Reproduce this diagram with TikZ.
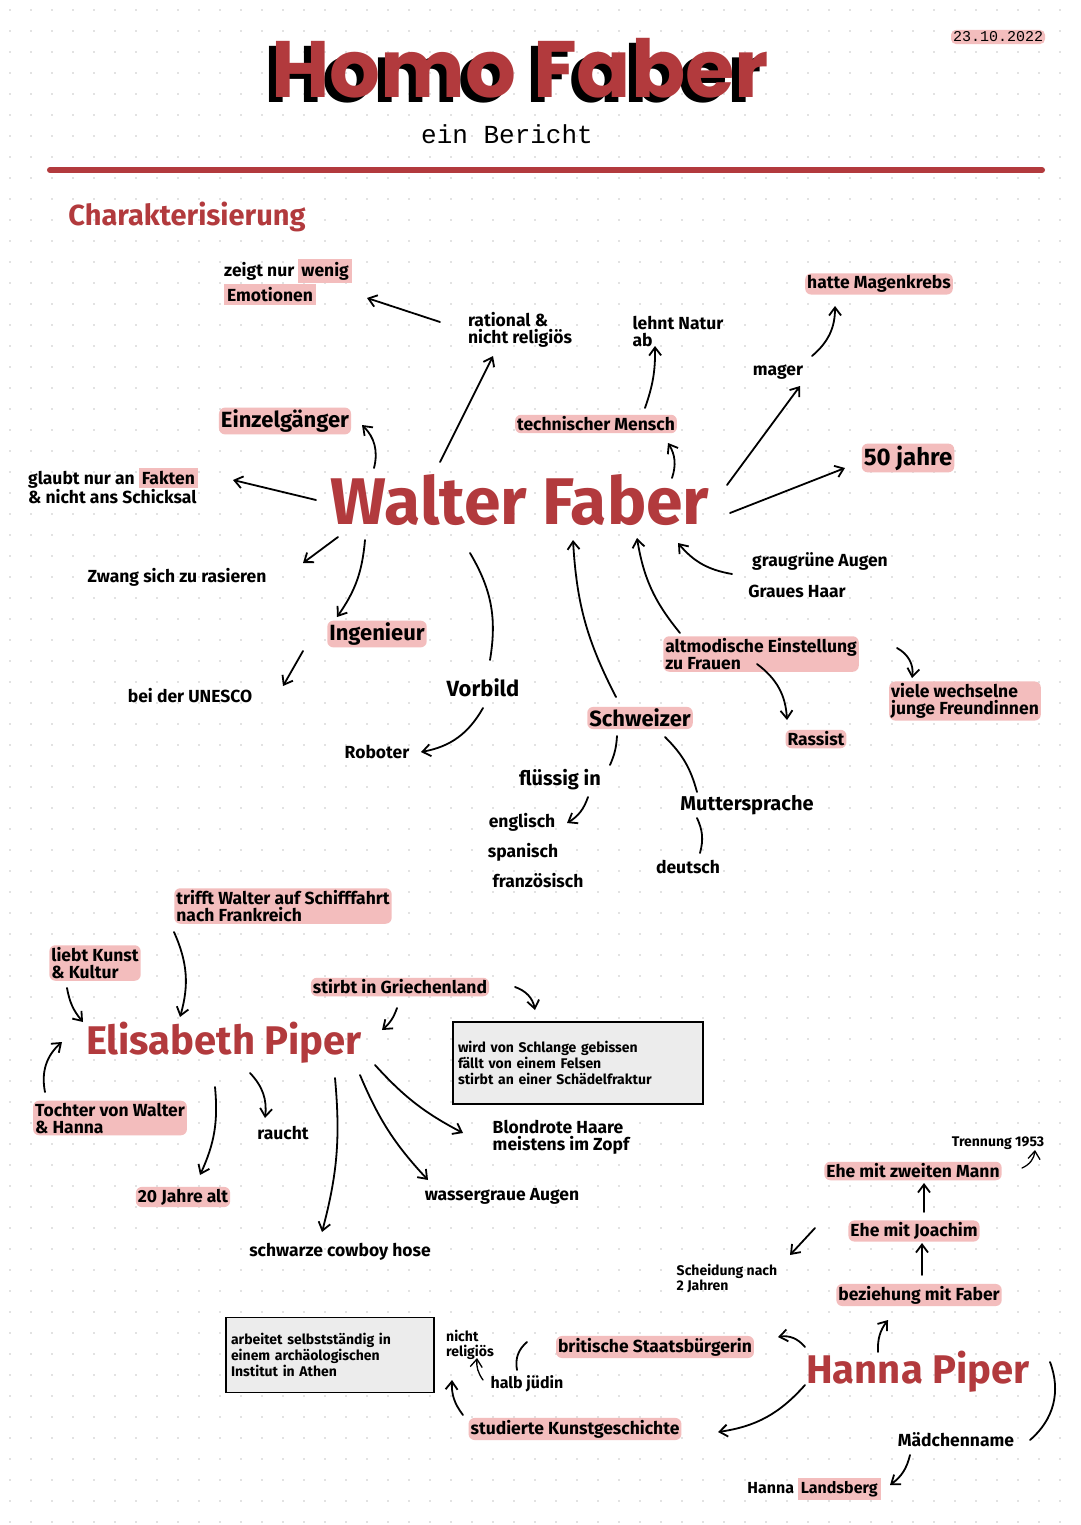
\documentclass[tikz,border=0pt]{standalone}
\usepackage{fontspec}
\setmainfont{Fira Sans}
\newfontfamily\monof{Liberation Mono}
\newfontfamily\titlef{Poppins}
\usetikzlibrary{arrows.meta}
\definecolor{hred}{HTML}{B23A3D}
\definecolor{hpink}{HTML}{F3BDBD}
\tikzset{
 lbl/.style={font=\fontsize{17.5}{17}\selectfont\bfseries, align=left, inner sep=1pt},
 sm/.style={font=\fontsize{14}{15}\selectfont\bfseries, align=left, inner sep=1pt},
 hl/.style={lbl, fill=hpink, rounded corners=6pt, inner sep=2pt},
 arr/.style={-{Straight Barb[length=8pt,width=12pt]}, line width=1.8pt, line cap=round},
 ln/.style={line width=1.8pt, line cap=round},
 big/.style={text=hred, font=\fontsize{66}{66}\selectfont\bfseries},
 mid/.style={text=hred, font=\fontsize{40}{42}\selectfont\bfseries},
 infobox/.style={draw, line width=1.5pt, fill=gray!15, font=\fontsize{14}{16}\selectfont\bfseries, align=left, inner sep=4pt},
 ttl/.style={font=\titlef\fontsize{80}{80}\selectfont\bfseries, inner sep=0pt, text height=58pt, text depth=0pt}
}
\begin{document}
\begin{tikzpicture}[x=1pt,y=-1pt]
\useasboundingbox (0,0) rectangle (1080,1525);
\fill[white] (0,0) rectangle (1080,1525);
\foreach \x in {10,31,...,1080} \foreach \y in {10,31,...,1525} \fill[gray!45] (\x,\y) circle (0.9);
% title
\node[ttl, text=black] (tsh) at (513,74) {Homo Faber};
\node[ttl, text=hred] (title) at (520,69) {Homo Faber};
\node[font=\monof\fontsize{26}{28}\selectfont, inner sep=1pt] (sub) at (507,134) {ein Bericht};
\node[font=\monof\fontsize{15}{16}\selectfont, fill=hpink, rounded corners=5pt, inner sep=2pt] (date) at (998,37) {23.10.2022};
\draw[hred, line width=6pt, line cap=round] (50,170) -- (1042,170);
\node[text=hred, font=\fontsize{29}{30}\selectfont\bfseries] (char) at (187,217) {Charakterisierung};
% Walter
\node[big] (wf) at (520,500) {Walter Faber};
\node[lbl] (emo) at (288,282) {zeigt nur \colorbox{hpink}{wenig}\\\colorbox{hpink}{Emotionen}};
\node[lbl] (rat) at (520,330) {rational \&\\nicht religiös};
\node[lbl] (natur) at (678,332) {lehnt Natur\\ab};
\node[hl] (krebs) at (879,284) {hatte Magenkrebs};
\node[lbl] (mager) at (778,372) {mager};
\node[hl, font=\fontsize{22}{22}\selectfont\bfseries] (einz) at (285,421) {Einzelgänger};
\node[hl] (tech) at (596,424) {technischer Mensch};
\node[hl, font=\fontsize{24}{24}\selectfont\bfseries] (fifty) at (908,458) {50 jahre};
\node[lbl] (glaubt) at (113,486) {glaubt nur an \colorbox{hpink}{Fakten}\\\& nicht ans Schicksal};
\node[lbl] (augen) at (820,561) {graugrüne Augen};
\node[lbl] (haar) at (797,591) {Graues Haar};
\node[lbl] (zwang) at (177,577) {Zwang sich zu rasieren};
\node[hl, font=\fontsize{22}{22}\selectfont\bfseries] (ing) at (377,634) {Ingenieur};
\node[hl] (alt) at (761,654) {altmodische Einstellung\\zu Frauen};
\node[lbl] (unesco) at (190,696) {bei der UNESCO};
\node[lbl, font=\fontsize{22}{22}\selectfont\bfseries] (vorbild) at (483,688) {Vorbild};
\node[hl] (freund) at (965,701) {viele wechselne\\junge Freundinnen};
\node[hl, font=\fontsize{22}{22}\selectfont\bfseries] (schw) at (640,718) {Schweizer};
\node[hl] (rass) at (816,739) {Rassist};
\node[lbl] (robot) at (377,752) {Roboter};
\node[lbl, font=\fontsize{20}{20}\selectfont\bfseries] (flues) at (560,780) {flüssig in};
\node[lbl, font=\fontsize{20}{20}\selectfont\bfseries] (mutter) at (747,805) {Muttersprache};
\node[lbl] (engl) at (522,822) {englisch};
\node[lbl] (span) at (523,852) {spanisch};
\node[lbl] (franz) at (538,881) {französisch};
\node[lbl] (deutsch) at (688,867) {deutsch};
\draw[arr] (440,322) -- (367,298);
\draw[arr] (440,462) -- (493,356);
\draw[arr] (645,408) to[bend right=10] (655,346);
\draw[arr] (812,356) to[bend right=25] (835,306);
\draw[arr] (727,485) -- (800,386);
\draw[arr] (730,513) -- (845,468);
\draw[arr] (672,478) to[bend right=25] (668,443);
\draw[arr] (374,468) to[bend right=30] (362,425);
\draw[arr] (316,500) -- (233,480);
\draw[arr] (338,537) -- (303,563);
\draw[arr] (365,540) to[bend left=15] (337,617);
\draw[arr] (303,651) -- (283,686);
\draw[ln] (470,553) to[bend left=20] (490,660);
\draw[arr] (483,708) to[bend left=25] (421,752);
\draw[arr] (616,697) to[bend left=12] (573,540);
\draw[arr] (680,633) to[bend left=15] (637,538);
\draw[arr] (732,574) to[bend left=20] (678,543);
\draw[arr] (897,648) to[bend left=35] (912,678);
\draw[arr] (757,664) to[bend left=25] (787,720);
\draw[ln] (617,736) to[bend left=10] (610,765);
\draw[arr] (588,797) to[bend left=20] (567,823);
\draw[ln] (665,737) to[bend left=15] (697,792);
\draw[ln] (697,818) to[bend left=20] (700,853);
% Elisabeth
\node[mid] (eli) at (224,1043) {Elisabeth Piper};
\node[hl] (trifft) at (283,906) {trifft Walter auf Schifffahrt\\nach Frankreich};
\node[hl] (kunst) at (95,963) {liebt Kunst\\\& Kultur};
\node[hl] (stirbt) at (400,987) {stirbt in Griechenland};
\node[infobox, minimum width=250pt, minimum height=82pt, text width=240pt] (box1) at (578,1063) {wird von Schlange gebissen\\fällt von einem Felsen\\stirbt an einer Schädelfraktur};
\node[hl] (tochter) at (110,1118) {Tochter von Walter\\\& Hanna};
\node[lbl] (raucht) at (283,1133) {raucht};
\node[lbl] (blond) at (561,1137) {Blondrote Haare\\meistens im Zopf};
\node[hl] (zwanzig) at (183,1197) {20 Jahre alt};
\node[lbl] (wasser) at (502,1196) {wassergraue Augen};
\node[lbl] (hose) at (340,1252) {schwarze cowboy hose};
\draw[arr] (174,932) to[bend left=20] (180,1017);
\draw[arr] (67,988) to[bend right=15] (83,1022);
\draw[arr] (515,987) to[bend left=30] (535,1010);
\draw[arr] (397,1008) to[bend left=15] (382,1030);
\draw[arr] (45,1092) to[bend left=30] (62,1042);
\draw[arr] (250,1073) to[bend left=25] (265,1118);
\draw[arr] (215,1087) to[bend left=15] (200,1175);
\draw[arr] (335,1078) to[bend left=10] (322,1232);
\draw[arr] (360,1075) to[bend right=10] (428,1180);
\draw[arr] (375,1065) to[bend right=10] (463,1133);
% Hanna
\node[mid] (hanna) at (918,1372) {Hanna Piper};
\node[sm] (trenn) at (998,1143) {Trennung 1953};
\node[hl] (ehe2) at (913,1171) {Ehe mit zweiten Mann};
\node[hl] (ehej) at (914,1231) {Ehe mit Joachim};
\node[sm] (scheid) at (727,1278) {Scheidung nach\\2 Jahren};
\node[hl] (bez) at (919,1295) {beziehung mit Faber};
\node[infobox, minimum width=208pt, minimum height=75pt, text width=198pt] (box2) at (330,1355) {arbeitet selbstständig in\\einem archäologischen\\Institut in Athen};
\node[sm] (nrel) at (470,1345) {nicht\\religiös};
\node[hl] (brit) at (655,1347) {britische Staatsbürgerin};
\node[lbl, font=\fontsize{16}{16}\selectfont\bfseries] (jued) at (527,1384) {halb jüdin};
\node[hl] (stud) at (575,1429) {studierte Kunstgeschichte};
\node[lbl] (maed) at (956,1440) {Mädchenname};
\node[lbl, font=\fontsize{16}{16}\selectfont\bfseries] (lands) at (814,1489) {Hanna \colorbox{hpink}{Landsberg}};
\draw[arr, line width=1.3pt] (1022,1168) to[bend right=30] (1035,1150);
\draw[arr] (924,1212) -- (924,1183);
\draw[arr] (922,1275) -- (922,1243);
\draw[arr] (815,1228) -- (790,1255);
\draw[arr] (878,1352) to[bend left=20] (888,1320);
\draw[arr] (805,1347) to[bend right=30] (778,1337);
\draw[ln] (527,1342) to[bend right=30] (517,1370);
\draw[arr, line width=1.3pt] (483,1380) to[bend left=20] (477,1358);
\draw[arr] (463,1415) to[bend left=20] (452,1380);
\draw[arr] (805,1385) to[bend left=20] (718,1432);
\draw[ln] (1050,1362) to[bend left=35] (1030,1440);
\draw[arr] (910,1455) to[bend left=20] (890,1485);
\end{tikzpicture}
\end{document}
